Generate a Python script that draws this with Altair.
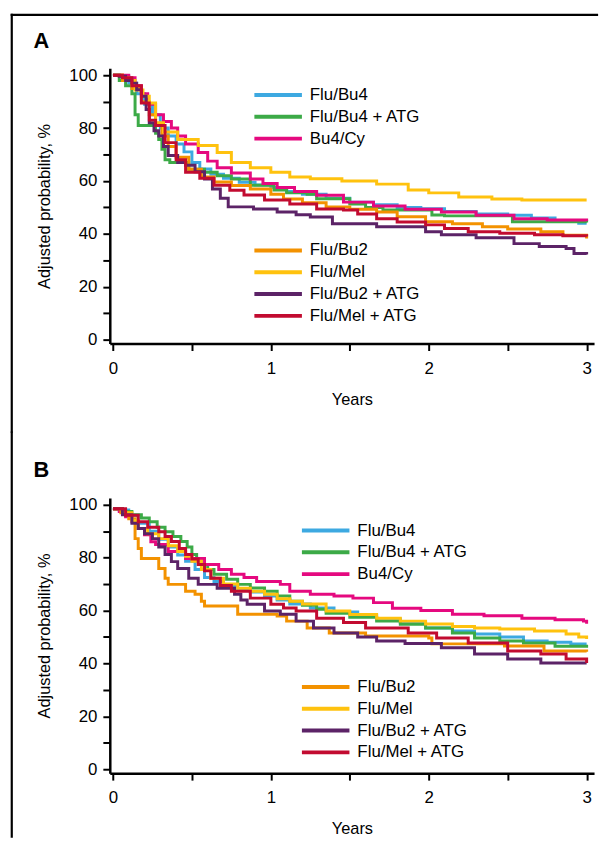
import altair as alt
import pandas as pd

# ---------------- data (years, adjusted probability %) ----------------
GROUP1 = ["Flu/Bu4", "Flu/Bu4 + ATG", "Bu4/Cy"]
GROUP2 = ["Flu/Bu2", "Flu/Mel", "Flu/Bu2 + ATG", "Flu/Mel + ATG"]
COLORS1 = ["#3DA9E1", "#3CAA47", "#E5097F"]
COLORS2 = ["#F39200", "#FFC20E", "#5C2367", "#C20B30"]

X_TICKS = [0, 0.5, 1, 1.5, 2, 2.5, 3]
Y_TICKS = [0, 10, 20, 30, 40, 50, 60, 70, 80, 90, 100]

A_FLU_BU4 = [(0, 100), (0.05, 99.5), (0.1, 97), (0.15, 93), (0.2, 89), (0.25, 85), (0.3, 80), (0.35, 77),
             (0.4, 74), (0.45, 71), (0.5, 67), (0.55, 64.5), (0.62, 62.5), (0.7, 61), (0.8, 59.5), (0.9, 58.5),
             (1.0, 57.5), (1.1, 56), (1.2, 55), (1.35, 53.5), (1.5, 52), (1.65, 51), (1.8, 50), (1.95, 49.5),
             (2.1, 48.5), (2.3, 47.5), (2.5, 47), (2.65, 46), (2.8, 45), (2.95, 44), (3.0, 44)]
A_FLU_BU4_ATG = [(0, 100), (0.04, 98), (0.08, 96), (0.12, 93), (0.14, 85), (0.16, 81), (0.25, 81), (0.27, 78),
                 (0.29, 75.7), (0.31, 72), (0.33, 68), (0.36, 67), (0.48, 64.4), (0.58, 63.3), (0.66, 62),
                 (0.75, 60.7), (0.87, 58.4), (1.02, 56.6), (1.1, 55.5), (1.23, 55), (1.29, 53.3), (1.5, 51.3),
                 (1.6, 50), (1.71, 49), (2.02, 47.1), (2.1, 46.8), (2.53, 44.6), (3.0, 44.3)]
A_BU4_CY = [(0, 100), (0.1, 99), (0.14, 96), (0.18, 93), (0.22, 89), (0.27, 85), (0.32, 82.5), (0.37, 80),
            (0.41, 77), (0.46, 74), (0.54, 70.8), (0.6, 67.5), (0.66, 65), (0.75, 63), (0.87, 60.7), (0.95, 59),
            (1.04, 57.5), (1.15, 56), (1.29, 54.6), (1.46, 52), (1.65, 50.5), (1.85, 49.3), (2.08, 48.3),
            (2.3, 47), (2.54, 45.7), (2.75, 45.2), (3.0, 44.9)]
A_FLU_BU2 = [(0, 100), (0.06, 98), (0.12, 95), (0.18, 90), (0.23, 85), (0.27, 81), (0.31, 77), (0.35, 73),
             (0.4, 69), (0.48, 64.4), (0.56, 61.5), (0.64, 59.6), (0.75, 58.3), (0.87, 57), (1.0, 55),
             (1.08, 53.2), (1.2, 51.8), (1.35, 50.2), (1.5, 49.3), (1.67, 48.3), (1.8, 46.5), (1.98, 44.6),
             (2.15, 43.8), (2.34, 42.7), (2.5, 41.8), (2.71, 40.8), (2.85, 39.5), (3.0, 38.2)]
A_FLU_MEL = [(0, 100), (0.06, 99), (0.1, 98), (0.14, 94.4), (0.19, 92), (0.23, 89.5), (0.27, 82), (0.32, 78.5),
             (0.41, 75.7), (0.54, 73.4), (0.66, 70.8), (0.75, 67), (0.87, 65), (1.0, 63.3), (1.12, 61.5),
             (1.25, 60.8), (1.45, 60), (1.67, 58.8), (1.87, 56.6), (2.0, 55.5), (2.19, 53.9), (2.4, 53.2),
             (2.59, 52.8), (3.0, 52.8)]
A_FLU_BU2_ATG = [(0, 100), (0.04, 99.6), (0.08, 98), (0.12, 97), (0.15, 94.5), (0.18, 92), (0.21, 87),
                 (0.23, 82), (0.26, 79), (0.29, 77), (0.32, 73), (0.35, 69.6), (0.41, 67), (0.46, 65.9),
                 (0.52, 63.5), (0.58, 60.7), (0.63, 57), (0.68, 53.5), (0.73, 50.2), (0.89, 49.4), (1.04, 48.3),
                 (1.16, 47.2), (1.25, 46.4), (1.39, 43.8), (1.67, 42.7), (1.98, 40.8), (2.08, 39.7), (2.3, 38.5),
                 (2.54, 36.3), (2.7, 35.2), (2.87, 34.5), (2.92, 32.6), (3.0, 32.2)]
A_FLU_MEL_ATG = [(0, 100), (0.06, 99), (0.12, 96), (0.18, 89.5), (0.23, 83), (0.27, 81), (0.33, 74.5),
                 (0.4, 68), (0.46, 63.3), (0.55, 61), (0.64, 58.4), (0.74, 56.5), (0.83, 54.7), (0.96, 52.8),
                 (1.12, 51.3), (1.29, 49.4), (1.46, 49), (1.55, 47.5), (1.67, 45.7), (1.8, 44.5), (1.98, 43.4),
                 (2.1, 42), (2.25, 40.8), (2.45, 40.2), (2.67, 39.7), (2.85, 39.3), (3.0, 39)]

B_FLU_BU4 = [(0, 98.5), (0.04, 98), (0.1, 96), (0.16, 93), (0.23, 90), (0.29, 87), (0.35, 84), (0.41, 81),
             (0.46, 78.6), (0.52, 75.5), (0.58, 72.5), (0.64, 71), (0.7, 69.5), (0.79, 68), (0.87, 67),
             (0.96, 65.5), (1.04, 64), (1.12, 62.5), (1.25, 61), (1.4, 59.5), (1.55, 58), (1.67, 56.8),
             (1.82, 55.5), (1.98, 53.4), (2.15, 52.3), (2.29, 51.1), (2.45, 50), (2.6, 48.5), (2.75, 48),
             (2.9, 47.4), (3.0, 47.4)]
B_FLU_BU4_ATG = [(0, 98.5), (0.06, 97.5), (0.12, 96.2), (0.18, 95), (0.23, 93.6), (0.28, 91.5), (0.33, 89.8),
                 (0.38, 88), (0.43, 86.1), (0.47, 84), (0.5, 81.2), (0.53, 79.5), (0.56, 77.4), (0.6, 75.5),
                 (0.64, 73.7), (0.72, 71.8), (0.79, 69.9), (0.87, 68.5), (0.96, 67.3), (1.04, 65.5), (1.12, 63.5),
                 (1.2, 62), (1.29, 60.5), (1.35, 59), (1.5, 57.5), (1.67, 56), (1.82, 54.8), (1.98, 53.4),
                 (2.15, 51.5), (2.29, 49.6), (2.45, 48.5), (2.6, 47.7), (2.8, 46.5), (3.0, 45.9)]
B_BU4_CY = [(0, 98.5), (0.04, 97.4), (0.08, 95.5), (0.12, 93.6), (0.16, 91), (0.2, 88.7), (0.24, 86),
            (0.27, 85), (0.35, 82.3), (0.46, 79.7), (0.58, 77.4), (0.67, 75.5), (0.75, 73.7), (0.83, 72.5),
            (0.91, 71), (1.06, 69.9), (1.12, 67.3), (1.25, 66.2), (1.4, 65.5), (1.52, 64.7), (1.65, 63),
            (1.77, 60.9), (1.95, 60), (2.15, 58.6), (2.35, 58), (2.59, 57.1), (2.8, 56.5), (2.98, 56), (3.0, 55)]
B_FLU_BU2 = [(0, 98.5), (0.05, 97), (0.1, 94.7), (0.14, 87.2), (0.16, 83.5), (0.18, 79.7), (0.29, 75.9),
             (0.33, 72.2), (0.35, 69.9), (0.46, 67.3), (0.52, 66.2), (0.56, 63.5), (0.58, 61.7), (0.79, 58.6),
             (1.04, 57.9), (1.1, 56), (1.23, 53.4), (1.37, 51.5), (1.6, 50.4), (2.0, 49.6), (2.02, 47.4),
             (2.48, 46.6), (2.73, 44.7), (3.0, 44.4)]
B_FLU_MEL = [(0, 98.5), (0.06, 97), (0.12, 94), (0.16, 91), (0.22, 89), (0.29, 87.2), (0.35, 84.5),
             (0.41, 82.3), (0.46, 80.5), (0.5, 78.6), (0.56, 75.5), (0.62, 72.2), (0.7, 70), (0.79, 68.4),
             (0.87, 67.3), (0.96, 66.2), (1.04, 64.5), (1.12, 63.5), (1.2, 62.5), (1.35, 59.8), (1.5, 58.5),
             (1.67, 57.1), (1.82, 56), (1.98, 54.9), (2.15, 54), (2.29, 53.4), (2.45, 53), (2.67, 52.3),
             (2.87, 51.1), (2.95, 50), (3.0, 49.2)]
B_FLU_BU2_ATG = [(0, 98.5), (0.06, 96.2), (0.12, 93), (0.16, 91), (0.2, 89), (0.25, 87.2), (0.29, 84),
                 (0.33, 81.2), (0.37, 78.5), (0.41, 75.9), (0.48, 72.2), (0.54, 69.9), (0.66, 68.4),
                 (0.77, 66.2), (0.81, 64), (0.85, 62.4), (0.96, 59.8), (1.06, 58.6), (1.16, 56), (1.27, 53.4),
                 (1.4, 51.5), (1.55, 50), (1.67, 48.5), (1.85, 47.5), (2.08, 45.9), (2.29, 43.6), (2.5, 41.7),
                 (2.71, 40.2), (3.0, 40.2)]
B_FLU_MEL_ATG = [(0, 98.5), (0.08, 96), (0.16, 93.6), (0.22, 91.5), (0.29, 89.8), (0.33, 88), (0.37, 86.1),
                 (0.42, 83.5), (0.46, 81.2), (0.5, 79.5), (0.54, 77.4), (0.58, 75), (0.62, 72.2), (0.68, 69.5),
                 (0.75, 67.3), (0.87, 64.7), (1.0, 62.4), (1.08, 61), (1.16, 59.8), (1.29, 57.1), (1.46, 55.5),
                 (1.6, 53.4), (1.87, 51.5), (2.05, 49.6), (2.25, 47.7), (2.5, 44.7), (2.71, 43.6), (2.87, 41.7),
                 (3.0, 40.2)]

PANEL_A1 = [A_FLU_BU4, A_FLU_BU4_ATG, A_BU4_CY]
PANEL_A2 = [A_FLU_BU2, A_FLU_MEL, A_FLU_BU2_ATG, A_FLU_MEL_ATG]
PANEL_B1 = [B_FLU_BU4, B_FLU_BU4_ATG, B_BU4_CY]
PANEL_B2 = [B_FLU_BU2, B_FLU_MEL, B_FLU_BU2_ATG, B_FLU_MEL_ATG]

# ---------------- styling ----------------
FONT = "Liberation Sans, Arial, Helvetica, sans-serif"
W, H = 489, 278
X_DOMAIN = [-0.02, 3.047]
Y_DOMAIN = [-1.5, 102.6]
FRAME_W = 2.2


def to_frame(names, series):
    rows = []
    for name, pts in zip(names, series):
        for t, v in pts:
            rows.append({"regimen": name, "years": t, "prob": v})
    return pd.DataFrame(rows)


x_axis = alt.Axis(
    values=X_TICKS, labelExpr="datum.value % 1 === 0 ? format(datum.value, 'd') : ''",
    title="Years", grid=False, domainColor="black", domainWidth=2.5, tickColor="black",
    tickWidth=2, tickSize=7, labelFont=FONT, labelFontSize=17, labelColor="black",
    labelPadding=10, labelFlush=False, labelOverlap=False, labelAngle=0,
    titleFont=FONT, titleFontSize=16.5, titleFontWeight="normal", titleColor="black", titlePadding=15,
)
y_axis = alt.Axis(
    values=Y_TICKS, labelExpr="datum.value % 20 === 0 ? datum.label : ''",
    title="Adjusted probability, %", grid=False, domainColor="black", domainWidth=2.5,
    tickColor="black", tickWidth=2, tickSize=7, labelFont=FONT, labelFontSize=17,
    labelColor="black", labelPadding=6, labelFlush=False, labelOverlap=False,
    titleFont=FONT, titleFontSize=16.5, titleFontWeight="normal", titleColor="black", titlePadding=17,
)


def lines(df, domain, colors, lx, ly):
    return alt.Chart(df).mark_line(interpolate="step-after", strokeWidth=3).encode(
        x=alt.X("years:Q", scale=alt.Scale(domain=X_DOMAIN, nice=False, zero=False), axis=x_axis),
        y=alt.Y("prob:Q", scale=alt.Scale(domain=Y_DOMAIN, nice=False, zero=False), axis=y_axis),
        color=alt.Color(
            "regimen:N", sort=domain,
            scale=alt.Scale(domain=domain, range=colors),
            legend=alt.Legend(
                orient="none", legendX=lx, legendY=ly, title=None, symbolType="stroke",
                symbolSize=2304, symbolStrokeWidth=4, labelFont=FONT, labelFontSize=17,
                labelColor="black", labelOffset=6, clipHeight=21, rowPadding=1, padding=0,
            ),
        ),
        detail="regimen:N",
    )


def panel(label, s1, s2, leg1, leg2, rule_top, rule_bottom, draw_top, label_y):
    layers = []
    edge = pd.DataFrame({"edge": ["frame"]})
    layers.append(
        alt.Chart(edge).mark_rule(color="black", strokeWidth=FRAME_W, strokeCap="square").encode(
            x=alt.value(-99), y=alt.value(rule_top), y2=alt.value(rule_bottom))
    )
    if draw_top:
        layers.append(
            alt.Chart(edge).mark_rule(color="black", strokeWidth=FRAME_W, strokeCap="square").encode(
                x=alt.value(-99), x2=alt.value(492), y=alt.value(rule_top))
        )
    layers.append(
        alt.Chart(pd.DataFrame({"panel": [label]})).mark_text(
            font=FONT, fontSize=22, fontWeight="bold", align="center", baseline="middle", color="black"
        ).encode(text="panel:N", x=alt.value(-69), y=alt.value(label_y))
    )
    layers.append(lines(to_frame(GROUP1, s1), GROUP1, COLORS1, *leg1))
    layers.append(lines(to_frame(GROUP2, s2), GROUP2, COLORS2, *leg2))
    return alt.layer(*layers).resolve_scale(color="independent").properties(width=W, height=H)


panel_a = panel("A", PANEL_A1, PANEL_A2, (144, 16.5), (144, 173.5), -54, 367, True, -28)
panel_b = panel("B", PANEL_B1, PANEL_B2, (192, 22.5), (192, 180.5), -66, 342, False, -28)

chart = alt.vconcat(panel_a, panel_b, spacing=-3.2).resolve_scale(color="independent").properties(
    padding={"left": 1.8, "top": 0.8, "right": 0, "bottom": 0}
).configure_view(stroke=None)

chart.save("out.html", embed_options={"renderer": "svg", "actions": False})
